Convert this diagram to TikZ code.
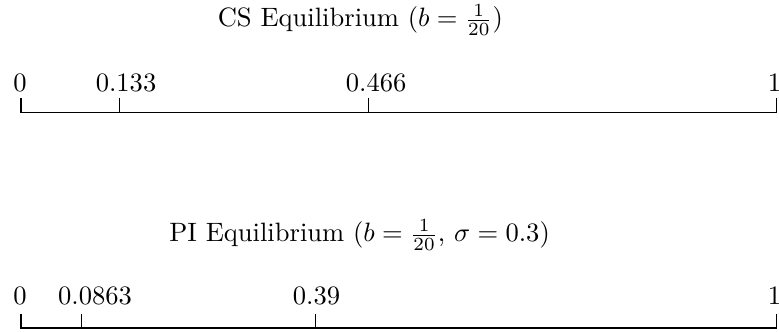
\documentclass[tikz,border=0pt]{standalone}
\tikzset{
  tl/.style   = {anchor=base, inner sep=0pt},
  ttl/.style  = {anchor=base, inner sep=0pt},
  line/.style = {line width=0.45pt},
}
\begin{document}
\begin{tikzpicture}
  \useasboundingbox (-0.278,-0.04) rectangle (10.03,4.34);

  % ===== CS equilibrium ===============================================
  \node[ttl] (cst) at (4.49,3.987) {CS Equilibrium ($b=\frac{1}{20}$)};
  \coordinate (cs0) at (0,2.85);
  \coordinate (csa) at (1.3,2.85);
  \coordinate (csb) at (4.6,2.85);
  \coordinate (cs1) at (10,2.85);
  \draw[line] ([yshift=0.19cm]cs0) -- (cs0) -- (cs1) -- ([yshift=0.19cm]cs1);
  \draw[line] (csa) -- ++(0,0.19);
  \draw[line] (csb) -- ++(0,0.19);
  \node[tl] (csl0) at (-0.013,3.127) {0};
  \node[tl] (csla) at (1.39,3.127)   {0.133};
  \node[tl] (cslb) at (4.70,3.127)   {0.466};
  \node[tl] (csl1) at (9.97,3.127)   {1};

  % ===== PI equilibrium ===============================================
  \node[ttl] (pit) at (4.48,1.142) {PI Equilibrium ($b=\frac{1}{20}$, $\sigma=0.3$)};
  \coordinate (pi0) at (0,0);
  \coordinate (pia) at (0.8,0);
  \coordinate (pib) at (3.9,0);
  \coordinate (pi1) at (10,0);
  \draw[line] ([yshift=0.19cm]pi0) -- (pi0) -- (pi1) -- ([yshift=0.19cm]pi1);
  \draw[line] (pia) -- ++(0,0.19);
  \draw[line] (pib) -- ++(0,0.19);
  \node[tl] (pil0) at (-0.013,0.314) {0};
  \node[tl] (pila) at (0.98,0.314)   {0.0863};
  \node[tl] (pilb) at (3.91,0.314)   {0.39};
  \node[tl] (pil1) at (9.97,0.314)   {1};
\end{tikzpicture}
\end{document}
